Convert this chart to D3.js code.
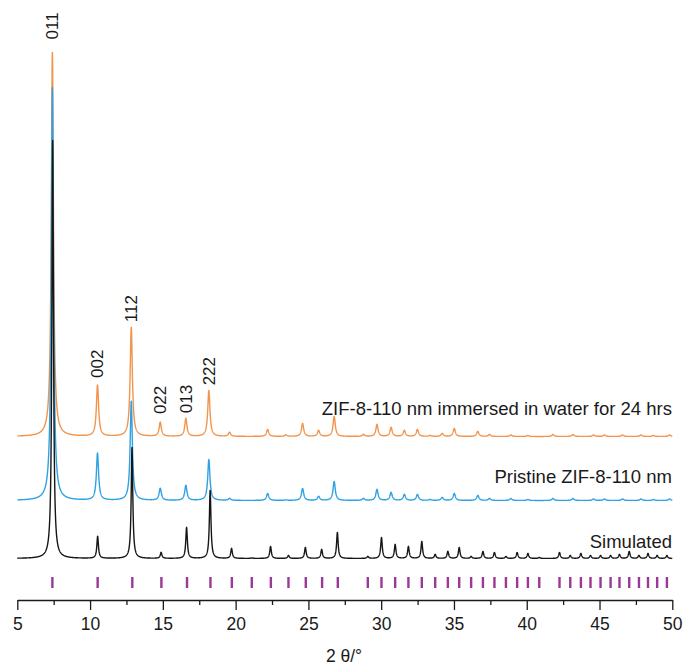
<!DOCTYPE html>
<html>
<head>
<meta charset="utf-8">
<script src="https://cdn.jsdelivr.net/npm/d3@7"></script>
<style>
  body { margin: 0; background: #fff; }
  text { font-family: "Liberation Sans", Arial, sans-serif; fill: #1a1a1a; }
</style>
</head>
<body>
<svg id="chart" width="685" height="666"></svg>
<script>

// peak lists: 2θ position and peak height (px-ish units)
var simPos = [7.43, 10.52, 12.88, 14.88, 16.63, 18.25, 19.72, 21.11, 22.40, 23.63, 24.79, 25.91, 26.99,
  29.08, 30.02, 30.96, 31.87, 32.79, 33.71, 34.58, 35.36, 36.18, 36.99, 37.78, 38.57, 39.34, 40.08, 40.86,
  42.25, 42.99, 43.72, 44.38, 45.07, 45.76, 46.37, 47.04, 47.71, 48.33, 48.96, 49.63];
var simInt = [418, 22, 111, 6, 31, 68, 10, 0.5, 12, 3, 11, 9, 26,
  2, 21, 14, 12, 17, 4, 7, 11, 2, 7, 6, 2, 6, 5, 1,
  6, 3, 5, 3, 3, 3, 4, 7, 3, 5, 3, 3];

var priPos = [7.41, 10.51, 12.83, 14.82, 16.58, 18.16, 19.58, 22.20, 23.45, 24.60, 25.70, 26.77,
  28.78, 29.71, 30.68, 31.59, 32.49, 33.36, 34.19, 35.02, 36.64, 37.44, 38.91, 40.08, 41.80,
  43.17, 44.59, 45.34, 46.58, 47.85, 48.71, 49.81];
var priInt = [413, 47, 99, 12, 15, 41, 2, 7, 0.5, 12, 4, 19,
  2, 11, 8, 6, 6, 1, 3, 7, 5, 2, 2, 1, 2,
  2, 1.5, 1.5, 1.5, 1.5, 1, 1.5];

var watPos = priPos;
var watInt = [384, 51, 109, 14, 18, 46, 4, 7, 1.5, 13, 6, 20,
  2, 12, 9, 6, 7, 1, 3, 8, 5, 2, 1.5, 1, 2,
  2, 1.5, 1.5, 1.5, 1.5, 1, 1.5];

// simulated reflection markers
var refPos = [7.41, 10.52, 12.90, 14.90, 16.66, 18.27, 19.74, 21.11, 22.42, 23.63, 24.82, 25.94, 27.02,
  29.08, 30.02, 30.96, 31.87, 32.79, 33.71, 34.58, 35.36, 36.18, 36.99, 37.78, 38.57, 39.34, 40.08, 40.86,
  42.25, 42.99, 43.72, 44.38, 45.07, 45.76, 46.37, 47.04, 47.71, 48.33, 48.96, 49.63];

var seriesNames = ["Simulated", "Pristine ZIF-8-110 nm", "ZIF-8-110 nm immersed in water for 24 hrs"];
var seriesOffset = [0, 58, 122];

var hklLabels = ["011", "002", "112", "022", "013", "222"];
var hklIndex = [0, 1, 2, 3, 4, 5];   // index into the water peak list

var xTicks = [5, 10, 15, 20, 25, 30, 35, 40, 45, 50];
var xMinor = [7.5, 12.5, 17.5, 22.5, 27.5, 32.5, 37.5, 42.5, 47.5];


var svg = d3.select("#chart");

var x = d3.scaleLinear().domain([5, 50]).range([17.3, 672.3]);
var y = d3.scaleLinear().domain([0, 558.5]).range([558.5, 0]);

// peak shape: lorentzian, half width in degrees
function profile(pos, inten, hw) {
  return function(t) {
    var s = 0;
    for (var i = 0; i < pos.length; i++) {
      var u = (t - pos[i]) / hw;
      s += inten[i] / (1 + u * u);
    }
    return s;
  };
}

var series = [
  {f: profile(simPos, simInt, 0.065), color: "#161616"},
  {f: profile(priPos, priInt, 0.09), color: "#2ea2e4"},
  {f: profile(watPos, watInt, 0.09), color: "#f3944c"}
];

var grid = d3.range(5, 50.0001, 0.01);

var line = d3.line()
  .x(function(d) { return x(d[0]); })
  .y(function(d) { return y(d[1]); });

// orange first, black on top
[2, 1, 0].forEach(function(k) {
  var s = series[k];
  var pts = grid.map(function(t) { return [t, seriesOffset[k] + s.f(t)]; });
  svg.append("path")
    .attr("d", line(pts))
    .attr("fill", "none")
    .attr("stroke", s.color)
    .attr("stroke-width", 1.4)
    .attr("stroke-linejoin", "round");
});

// series names
var nameDy = [-11, -18, -22];
svg.selectAll(".sname")
  .data(seriesNames)
  .enter().append("text")
  .attr("class", "sname")
  .attr("x", 672)
  .attr("y", function(d, i) { return y(seriesOffset[i]) + nameDy[i]; })
  .attr("text-anchor", "end")
  .style("font-size", "18.5px")
  .text(function(d) { return d; });

// hkl labels above the water peaks
var wf = series[2].f;
var hklGap = [13, 7, 5, 8, 5, 5];
svg.selectAll(".hkl")
  .data(hklLabels)
  .enter().append("text")
  .attr("class", "hkl")
  .attr("transform", function(d, i) {
    var p = watPos[hklIndex[i]];
    var top = y(seriesOffset[2] + wf(p));
    return "translate(" + x(p) + "," + (top - hklGap[i]) + ") rotate(-90)";
  })
  .attr("dy", "0.35em")
  .style("font-size", "17px")
  .text(function(d) { return d; });

// reflection markers
svg.selectAll(".ref")
  .data(refPos)
  .enter().append("rect")
  .attr("class", "ref")
  .attr("x", function(d) { return x(d) - 1.2; })
  .attr("y", 577)
  .attr("width", 2.4)
  .attr("height", 11)
  .attr("fill", "#9a3a96");

// x axis
var axisY = 600;
var gx = svg.append("g")
  .attr("transform", "translate(0," + axisY + ")")
  .call(d3.axisBottom(x).tickValues(xTicks).tickSize(10).tickPadding(8).tickSizeOuter(0));
gx.select(".domain").attr("stroke", "#1a1a1a").attr("stroke-width", 1.3);
gx.selectAll(".tick line").attr("stroke", "#1a1a1a").attr("stroke-width", 1.3);
gx.selectAll(".tick text")
  .style("font-family", "'Liberation Sans', Arial, sans-serif")
  .style("font-size", "17.5px")
  .attr("fill", "#1a1a1a");

var gm = svg.append("g")
  .attr("transform", "translate(0," + axisY + ")")
  .call(d3.axisBottom(x).tickValues(xMinor).tickSize(5).tickFormat(""));
gm.select(".domain").remove();
gm.selectAll(".tick line").attr("stroke", "#1a1a1a").attr("stroke-width", 1.3);

svg.append("text")
  .attr("x", 344)
  .attr("y", 662)
  .attr("text-anchor", "middle")
  .style("font-size", "17.5px")
  .text("2 θ/°");

</script>
</body>
</html>
